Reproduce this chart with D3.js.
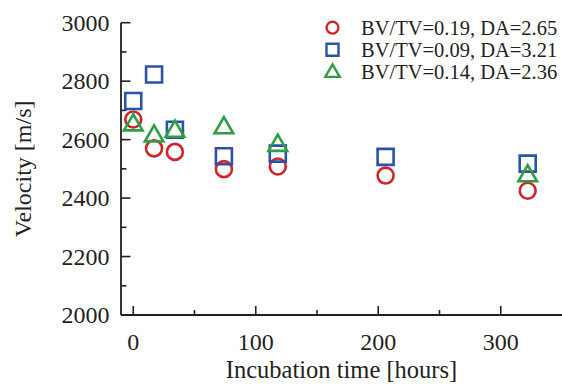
<!DOCTYPE html>
<html><head><meta charset="utf-8">
<script src="https://cdn.jsdelivr.net/npm/d3@7"></script>
<style>body{margin:0;background:#fff}svg{display:block}text{font-family:"Liberation Serif","Times New Roman",serif;fill:#231f20}</style>
</head><body><svg id="c" width="562" height="385"></svg>
<script>
const times = [0, 17, 34, 74, 118, 206, 322];
const seriesNames = ["BV/TV=0.19, DA=2.65", "BV/TV=0.09, DA=3.21", "BV/TV=0.14, DA=2.36"];
const redVals = [2669, 2570, 2558, 2499, 2508, 2477, 2425];
const blueVals = [2732, 2823, 2634, 2543, 2552, 2541, 2518];
const greenTimes = [0, 17, 34, 74, 118, 322];
const greenVals = [2650, 2612, 2628, 2640, 2580, 2476];
const xTicks = [0, 100, 200, 300];
const yTicks = [2000, 2200, 2400, 2600, 2800, 3000];

const colors = ["#d2232a", "#2a52a8", "#2e9e45"];
const symbols = [d3.symbolCircle, d3.symbolSquare, d3.symbolTriangle];

const svg = d3.select("#c");
const m = {l:121, r:562, t:22.7, b:315};
const x = d3.scaleLinear().domain([-10, 350]).range([m.l, m.r]);
const y = d3.scaleLinear().domain([2000, 3000]).range([m.b, m.t]);

const axisColor = "#231f20";
// X axis
const xa = svg.append("g").attr("transform", `translate(0,${m.b})`);
xa.append("line").attr("x1", m.l).attr("x2", m.r).attr("stroke", axisColor).attr("stroke-width", 1.8);
xa.selectAll(".mj").data(xTicks).join("line").attr("x1", d=>x(d)).attr("x2", d=>x(d)).attr("y1", 0).attr("y2", -9).attr("stroke", axisColor).attr("stroke-width", 1.6);
xa.selectAll(".mn").data([50,150,250]).join("line").attr("x1", d=>x(d)).attr("x2", d=>x(d)).attr("y1", 0).attr("y2", -5).attr("stroke", axisColor).attr("stroke-width", 1.6);
xa.selectAll("text").data(xTicks).join("text").attr("x", d=>x(d)).attr("y", 35).attr("text-anchor","middle").attr("font-size", 24).text(d=>d);
// Y axis
const ya = svg.append("g").attr("transform", `translate(${m.l},0)`);
ya.append("line").attr("y1", m.t).attr("y2", m.b).attr("stroke", axisColor).attr("stroke-width", 1.8);
ya.selectAll(".mj").data(yTicks).join("line").attr("y1", d=>y(d)).attr("y2", d=>y(d)).attr("x1", 0).attr("x2", 9.5).attr("stroke", axisColor).attr("stroke-width", 1.6);
ya.selectAll(".mn").data([2100,2300,2500,2700,2900]).join("line").attr("y1", d=>y(d)).attr("y2", d=>y(d)).attr("x1", 0).attr("x2", 5.5).attr("stroke", axisColor).attr("stroke-width", 1.6);
ya.selectAll("text").data(yTicks).join("text").attr("x", -11.5).attr("y", d=>y(d)+8).attr("text-anchor","end").attr("font-size", 24).text(d=>d);

svg.append("text").attr("x", (m.l+m.r)/2).attr("y", 378).attr("text-anchor","middle").attr("font-size", 24.5).text("Incubation time [hours]");
svg.append("text").attr("transform", `translate(31,${(m.t+m.b)/2}) rotate(-90)`).attr("text-anchor","middle").attr("font-size", 24).text("Velocity [m/s]");

// Data
const series = [
  {t: times, v: redVals},
  {t: times, v: blueVals},
  {t: greenTimes, v: greenVals}
];
const sizes = [200, 256, 150];
series.forEach((s, i) => {
  const pts = s.t.map((t, j) => [t, s.v[j]]);
  svg.append("g").selectAll("path").data(pts).join("path")
    .attr("transform", d => `translate(${x(d[0])},${y(d[1])})`)
    .attr("d", d3.symbol().type(symbols[i]).size(sizes[i]))
    .attr("fill", "none").attr("stroke", colors[i]).attr("stroke-width", 2.6);
});

// Legend
const lg = svg.append("g");
const legSizes = [110, 144, 90];
seriesNames.forEach((n, i) => {
  const cy = 27.7 + i*22;
  lg.append("path").attr("transform", `translate(332.5,${cy + (i===2?1:0)})`)
    .attr("d", d3.symbol().type(symbols[i]).size(legSizes[i]))
    .attr("fill","none").attr("stroke", colors[i]).attr("stroke-width", 2.4);
  lg.append("text").attr("x", 361).attr("y", cy + 7).attr("font-size", 20.5).text(n);
});
</script></body></html>
